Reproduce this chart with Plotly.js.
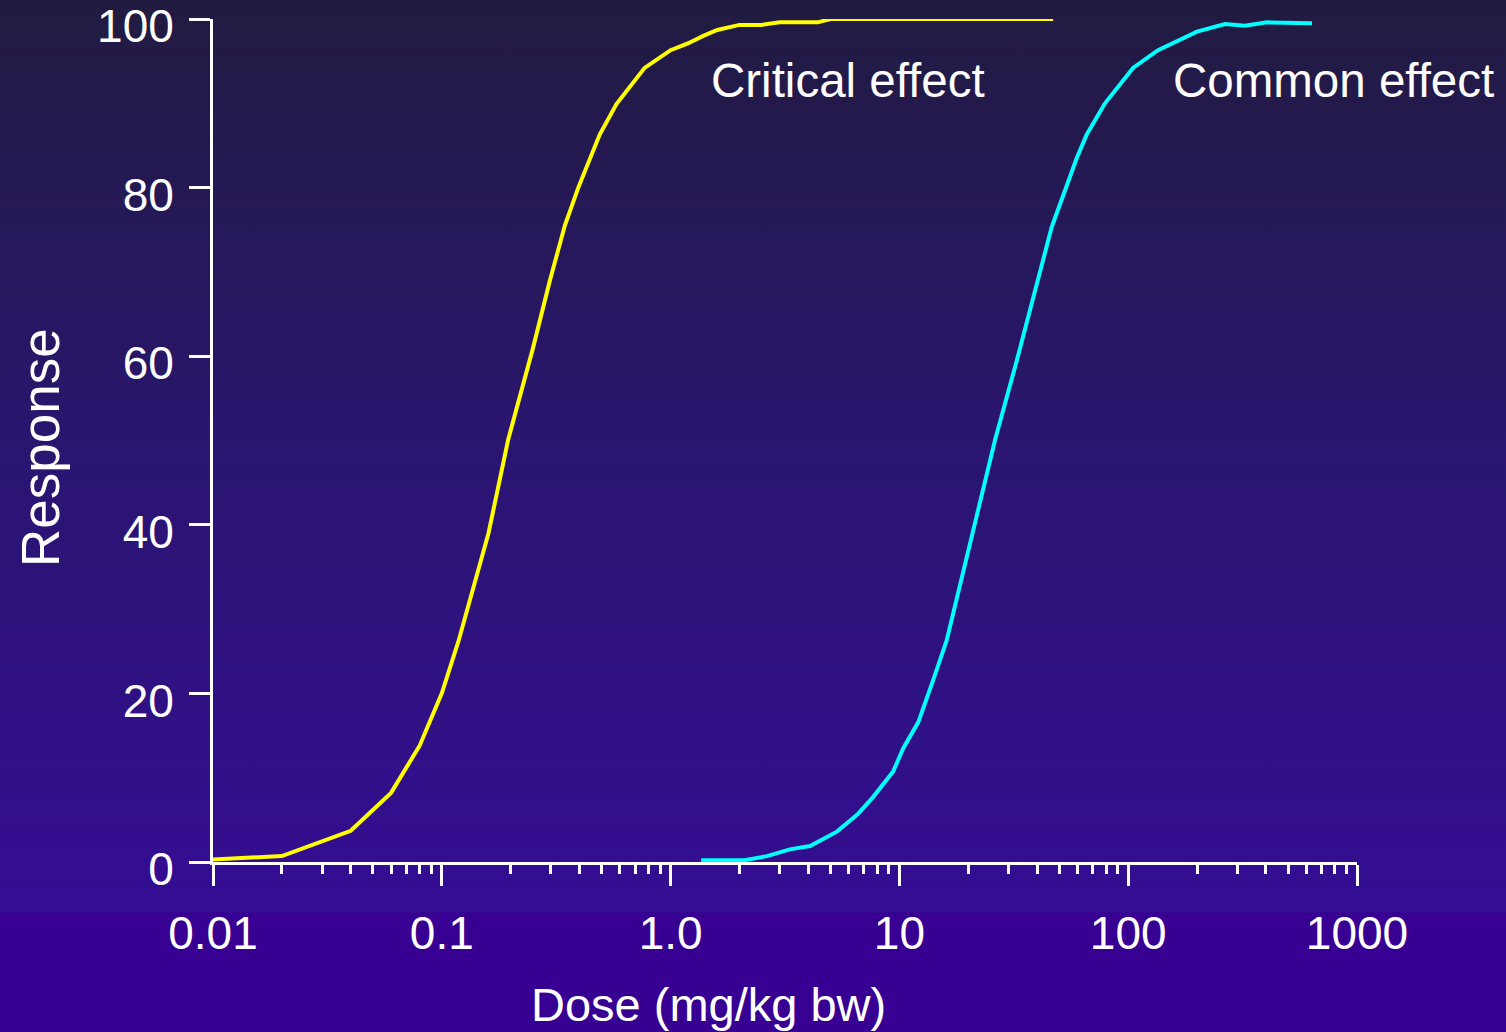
<!DOCTYPE html>
<html>
<head>
<meta charset="utf-8">
<script src="https://cdn.plot.ly/plotly-3.0.1.min.js"></script>
<style>
  html, body { margin: 0; padding: 0; }
  body {
    width: 1506px; height: 1032px; overflow: hidden;
    background: linear-gradient(to bottom, #211b40 0px, #2a1570 450px, #340d93 912px, #380092 913px, #380092 1032px);
  }
  #chart { width: 1506px; height: 1032px; }
</style>
</head>
<body>
<div id="chart"></div>
<script>
// Critical effect curve (yellow)
const criticalDose = [0.01, 0.02, 0.04, 0.06, 0.08, 0.1, 0.118, 0.16, 0.195, 0.25, 0.297, 0.345, 0.395, 0.49, 0.58, 0.77, 1.0, 1.19, 1.39, 1.6, 2.0, 2.5, 3.0, 4.4, 5.0, 7.0, 10, 15, 20, 30, 47];
const criticalResp = [0.3, 0.7, 3.7, 8.2, 13.8, 20.0, 26.1, 39.0, 50.1, 60.9, 69.0, 75.5, 80.0, 86.3, 89.9, 94.2, 96.3, 97.1, 98.0, 98.7, 99.3, 99.3, 99.6, 99.6, 100, 100, 100, 100, 100, 100, 100];

// Common effect curve (cyan)
const commonDose = [1.36, 2.1, 2.64, 3.32, 4.07, 5.33, 6.59, 7.67, 9.38, 10.4, 12.1, 13.3, 14.06, 16.1, 18.4, 21.0, 26.2, 32.6, 40.5, 46.3, 59.6, 65.9, 79.2, 105, 135, 168, 200, 265, 324, 404, 536, 636];
const commonResp = [0.2, 0.2, 0.7, 1.5, 1.9, 3.6, 5.7, 7.7, 10.7, 13.5, 16.6, 19.6, 21.6, 26.3, 32.7, 39.0, 50.1, 59.5, 69.4, 75.3, 83.5, 86.3, 90.0, 94.2, 96.3, 97.5, 98.5, 99.4, 99.2, 99.6, 99.6, 99.5];

// Axis ticks
const xTickVals = [0.01, 0.1, 1, 10, 100, 1000];
const xTickText = ["0.01", "0.1", "1.0", "10", "100", "1000"];
const yTickVals = [0, 20, 40, 60, 80, 100];
const yTickText = ["0", "20", "40", "60", "80", "100"];

// Labels
const curveLabels = ["Critical effect", "Common effect"];
const xTitle = "Dose (mg/kg bw)";
const yTitle = "Response";

const FONT = "Liberation Sans, Arial, Helvetica, sans-serif";

const traces = [
  { x: criticalDose, y: criticalResp, type: "scatter", mode: "lines", name: curveLabels[0],
    line: { color: "#ffff00", width: 4 }, cliponaxis: false, hoverinfo: "skip" },
  { x: commonDose, y: commonResp, type: "scatter", mode: "lines", name: curveLabels[1],
    line: { color: "#00ffff", width: 4 }, cliponaxis: false, hoverinfo: "skip" }
];

const layout = {
  width: 1506, height: 1032,
  margin: { l: 213, r: 149, t: 19, b: 170, pad: 0 },
  paper_bgcolor: "rgba(0,0,0,0)",
  plot_bgcolor: "rgba(0,0,0,0)",
  showlegend: false,
  font: { family: FONT, color: "#ffffff" },
  xaxis: {
    type: "log", range: [-2, 3],
    showline: true, linecolor: "#ffffff", linewidth: 3,
    showgrid: false, zeroline: false,
    ticks: "outside", ticklen: 21, tickwidth: 3, tickcolor: "#ffffff",
    tickmode: "array", tickvals: xTickVals, ticktext: xTickText,
    tickfont: { family: FONT, size: 46, color: "#ffffff" },
    ticklabelstandoff: 8,
    ticklabeloverflow: "allow",
    minor: { ticks: "outside", ticklen: 9, tickwidth: 3, tickcolor: "#ffffff", dtick: "D1", showgrid: false },
    fixedrange: true
  },
  yaxis: {
    range: [0, 100],
    showline: true, linecolor: "#ffffff", linewidth: 3,
    showgrid: false, zeroline: false,
    ticks: "outside", ticklen: 21, tickwidth: 3, tickcolor: "#ffffff",
    tickmode: "array", tickvals: yTickVals, ticktext: yTickText,
    tickfont: { family: FONT, size: 46, color: "#ffffff" },
    ticklabelstandoff: 6,
    ticklabelshift: 7,
    ticklabeloverflow: "allow",
    fixedrange: true
  },
  annotations: [
    { text: curveLabels[0], xref: "paper", yref: "paper", x: 0.4340, y: 0.9265,
      xanchor: "left", yanchor: "middle", showarrow: false,
      font: { family: FONT, size: 47.5, color: "#ffffff" } },
    { text: curveLabels[1], xref: "paper", yref: "paper", x: 0.8370, y: 0.9265,
      xanchor: "left", yanchor: "middle", showarrow: false,
      font: { family: FONT, size: 47.5, color: "#ffffff" } },
    { text: xTitle, xref: "paper", yref: "paper", x: 0.4327, y: -0.1696,
      xanchor: "center", yanchor: "middle", showarrow: false,
      font: { family: FONT, size: 47, color: "#ffffff" } },
    { text: yTitle, xref: "paper", yref: "paper", x: -0.1512, y: 0.4911,
      xanchor: "center", yanchor: "middle", showarrow: false, textangle: -90,
      font: { family: FONT, size: 53, color: "#ffffff" } }
  ]
};

Plotly.newPlot("chart", traces, layout, { displayModeBar: false, staticPlot: true });
</script>
</body>
</html>
